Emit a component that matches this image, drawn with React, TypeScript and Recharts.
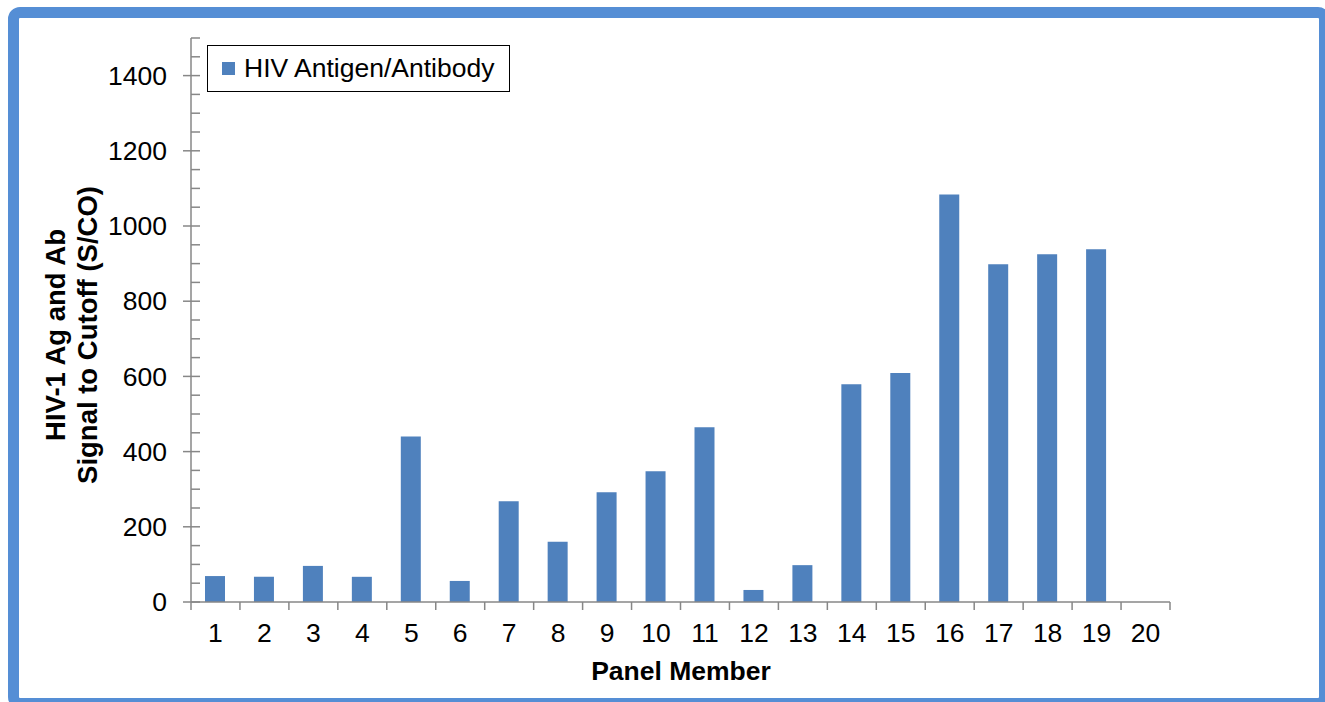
import { Bar, BarChart, Legend, XAxis, YAxis } from "recharts";

const members = [
  "1", "2", "3", "4", "5", "6", "7", "8", "9", "10",
  "11", "12", "13", "14", "15", "16", "17", "18", "19", "20",
];

const signalToCutoff = [
  69, 67, 96, 67, 440, 56, 268, 160, 292, 348,
  465, 32, 98, 579, 609, 1084, 898, 925, 938, 0,
];

const yTicks = [
  0, 50, 100, 150, 200, 250, 300, 350, 400, 450, 500, 550, 600, 650, 700, 750,
  800, 850, 900, 950, 1000, 1050, 1100, 1150, 1200, 1250, 1300, 1350, 1400,
  1450, 1500,
];

const data = members.map((m, i) => ({ name: m, value: signalToCutoff[i] }));

const FONT = "'Liberation Sans', Arial, sans-serif";
const AXIS = "#878787";
const BAR = "#4F81BD";
const HALF_BAND = 979 / 40;

function YTick(props: any) {
  const { x, y, payload } = props;
  const major = payload.value % 200 === 0;
  return (
    <g>
      <line x1={major ? x - 8 : x} x2={x + 9} y1={y} y2={y} stroke={AXIS} strokeWidth={1.5} />
      {major && (
        <text x={x - 24} y={y} dy="0.35em" textAnchor="end" fontSize={26.5} fill="#000" fontFamily={FONT}>
          {payload.value}
        </text>
      )}
    </g>
  );
}

function XTick(props: any) {
  const { x, y, payload, index } = props;
  return (
    <g>
      {index === 0 && (
        <line x1={x - HALF_BAND} x2={x - HALF_BAND} y1={y} y2={y + 8} stroke={AXIS} strokeWidth={1.5} />
      )}
      <line x1={x + HALF_BAND} x2={x + HALF_BAND} y1={y} y2={y + 8} stroke={AXIS} strokeWidth={1.5} />
      <text x={x} y={y + 40} textAnchor="middle" fontSize={26.5} fill="#000" fontFamily={FONT}>
        {payload.value}
      </text>
    </g>
  );
}

function YTitle() {
  return (
    <g fontFamily={FONT} fontWeight="bold" fontSize={27.5} fill="#000">
      <text x={55} y={335} dy="0.35em" textAnchor="middle" transform="rotate(-90, 55, 335)">
        HIV-1 Ag and Ab
      </text>
      <text x={87} y={335} dy="0.35em" textAnchor="middle" transform="rotate(-90, 87, 335)">
        Signal to Cutoff (S/CO)
      </text>
    </g>
  );
}

function XTitle() {
  return (
    <text x={681} y={680} textAnchor="middle" fontFamily={FONT} fontWeight="bold" fontSize={26.5} fill="#000">
      Panel Member
    </text>
  );
}

function LegendBox() {
  return (
    <div
      style={{
        boxSizing: "border-box",
        width: 303,
        height: 47,
        border: "1.5px solid #000",
        background: "#fff",
        display: "flex",
        alignItems: "center",
        paddingLeft: 14,
        fontFamily: FONT,
        fontSize: 26.5,
        color: "#000",
      }}
    >
      <span style={{ width: 13, height: 13, background: BAR, marginRight: 9, display: "inline-block" }} />
      HIV Antigen/Antibody
    </div>
  );
}

export default function App() {
  return (
    <div style={{ position: "absolute", left: 0, top: 0, width: 1325, height: 702, overflow: "hidden", background: "#fff" }}>
      <div
        style={{
          position: "absolute",
          left: 8,
          top: 7,
          width: 1322,
          height: 702,
          boxSizing: "border-box",
          border: "11px solid #558ED5",
          borderRadius: 12,
        }}
      />
      <div style={{ position: "absolute", left: 0, top: 0 }}>
        <BarChart
          width={1325}
          height={702}
          data={data}
          margin={{ top: 38, right: 155, bottom: 40, left: 0 }}
        >
          <XAxis
            dataKey="name"
            height={60}
            interval={0}
            tickSize={0}
            tickMargin={0}
            tick={<XTick />}
            axisLine={{ stroke: AXIS, strokeWidth: 1.5 }}
            label={<XTitle />}
          />
          <YAxis
            width={191}
            domain={[0, 1500]}
            ticks={yTicks}
            interval={0}
            tickSize={0}
            tickMargin={0}
            tick={<YTick />}
            axisLine={{ stroke: AXIS, strokeWidth: 1.5 }}
            label={<YTitle />}
          />
          <Legend
            layout="horizontal"
            verticalAlign="middle"
            align="center"
            content={<LegendBox />}
            wrapperStyle={{ left: 207, top: 45, width: 303, height: 47 }}
          />
          <Bar dataKey="value" fill={BAR} barSize={20} isAnimationActive={false} />
        </BarChart>
      </div>
    </div>
  );
}
